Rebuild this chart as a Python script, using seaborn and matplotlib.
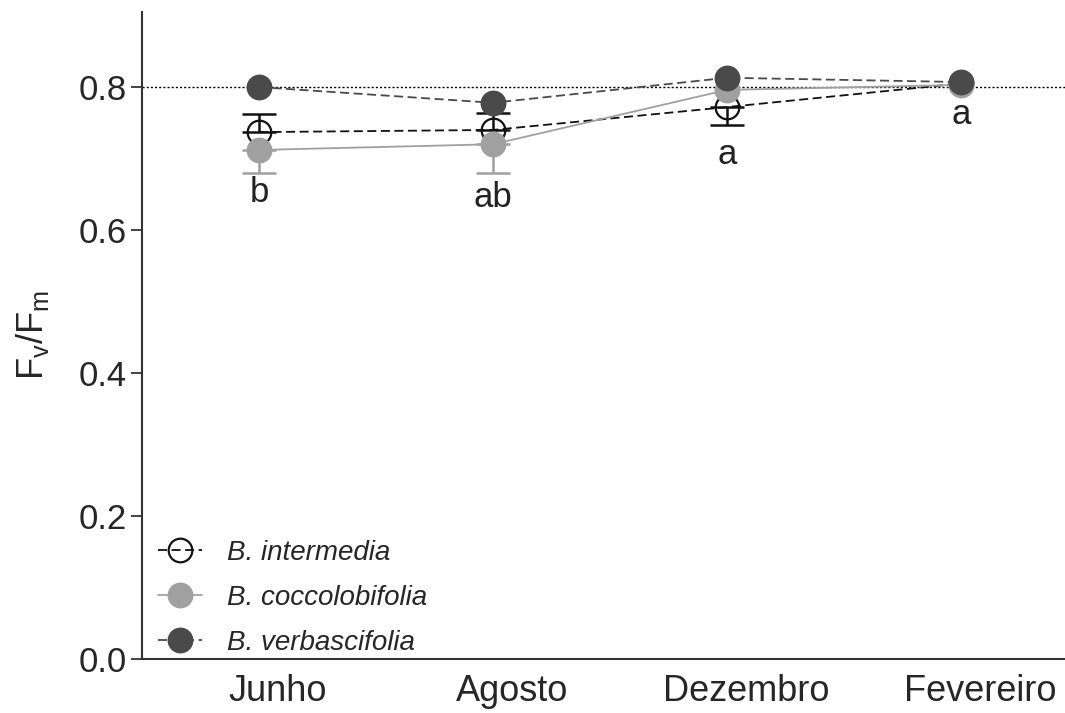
import matplotlib
matplotlib.use("Agg")
import matplotlib.pyplot as plt
import matplotlib.transforms as mtransforms
import seaborn as sns
import numpy as np
import pandas as pd

# Sampling months
months = ["Junho", "Agosto", "Dezembro", "Fevereiro"]

# Mean Fv/Fm per species
intermedia = [0.737, 0.740, 0.772, 0.805]
coccolobifolia = [0.712, 0.720, 0.796, 0.803]
verbascifolia = [0.800, 0.778, 0.813, 0.807]

# One-sided standard errors (positive = drawn upward, negative = downward)
intermedia_err = [0.025, 0.024, -0.025, 0.0]
coccolobifolia_err = [-0.032, -0.040, 0.0, 0.0]
verbascifolia_err = [0.0, 0.0, 0.0, 0.0]

# Significance letters and their heights
letters = ["b", "ab", "a", "a"]
letter_y = [0.653, 0.646, 0.705, 0.761]

species = ["B. intermedia", "B. coccolobifolia", "B. verbascifolia"]

sns.set_theme(style="ticks")
plt.rcParams["font.family"] = ["Liberation Sans", "DejaVu Sans"]
plt.rcParams["mathtext.fontset"] = "custom"
plt.rcParams["mathtext.rm"] = "Liberation Sans"

fig = plt.figure(figsize=(10.65, 7.13), dpi=100)
ax = fig.add_axes([0.1333, 0.0757, 0.8667, 0.9075])

x = np.arange(len(months))
df = pd.DataFrame({
    "pos": np.tile(x, 3),
    "value": intermedia + coccolobifolia + verbascifolia,
    "species": np.repeat(species, len(months)),
})

# Reference line at 0.8
ax.axhline(0.8, color="black", linestyle=(0, (1.5, 1.5)), linewidth=1.0, zorder=1)

styles = {
    "B. intermedia": dict(color="#111111", mfc="none", mec="#111111", ls=(0, (5, 2.5)), lw=1.3, z=3),
    "B. coccolobifolia": dict(color="#a0a0a0", mfc="#a0a0a0", mec="#a0a0a0", ls="-", lw=1.3, z=4),
    "B. verbascifolia": dict(color="#4a4a4a", mfc="#4a4a4a", mec="#4a4a4a", ls=(0, (5, 2.5)), lw=1.3, z=5),
}
errs = {
    "B. intermedia": intermedia_err,
    "B. coccolobifolia": coccolobifolia_err,
    "B. verbascifolia": verbascifolia_err,
}

for sp in species:
    st = styles[sp]
    sub = df[df["species"] == sp]
    e = np.array(errs[sp])
    lower = np.where(e < 0, -e, 0.0)
    upper = np.where(e > 0, e, 0.0)
    mask = e != 0
    if mask.any():
        ax.errorbar(sub["pos"].values[mask], sub["value"].values[mask],
                    yerr=[lower[mask], upper[mask]], fmt="none",
                    ecolor=st["color"], elinewidth=1.8, capsize=12, capthick=1.8,
                    zorder=st["z"] - 0.5)
    sns.lineplot(data=sub, x="pos", y="value", ax=ax, color=st["color"],
                 linestyle=st["ls"], linewidth=st["lw"], marker="o",
                 markersize=17, markerfacecolor=st["mfc"], markeredgecolor=st["mec"],
                 markeredgewidth=1.6, zorder=st["z"], label=sp, errorbar=None)

for xi, lab, ly in zip(x, letters, letter_y):
    ax.text(xi, ly, lab, ha="center", va="center", fontsize=25, color="#222222")

ax.set_xlim(-0.5, 3.444)
ax.set_ylim(0, 0.905)
ax.set_xticks(x)
ax.set_xticklabels(months)
ax.set_yticks([0.0, 0.2, 0.4, 0.6, 0.8])
ax.set_yticklabels(["0.0", "0.2", "0.4", "0.6", "0.8"])
ax.tick_params(axis="y", length=8, width=1.3, labelsize=25, pad=3, color="#333333")
ax.tick_params(axis="x", length=0, labelsize=26, pad=11)

# Month labels sit slightly right of their category centres
shift = mtransforms.ScaledTranslation(0.19, 0, fig.dpi_scale_trans)
for lbl in ax.get_xticklabels():
    lbl.set_transform(lbl.get_transform() + shift)

ax.set_xlabel("")
ax.set_ylabel(r"F$_\mathrm{v}$/F$_\mathrm{m}$", fontsize=26, labelpad=20)
for s in ["top", "right"]:
    ax.spines[s].set_visible(False)
for s in ["left", "bottom"]:
    ax.spines[s].set_linewidth(1.5)
    ax.spines[s].set_color("#333333")

leg = ax.legend(loc="lower left", bbox_to_anchor=(0.005, -0.012), frameon=False,
                prop={"style": "italic", "size": 20}, handlelength=1.6,
                handletextpad=0.9, labelspacing=0.68, borderaxespad=0.0)

fig.savefig("out.png", dpi=100, facecolor="white")
